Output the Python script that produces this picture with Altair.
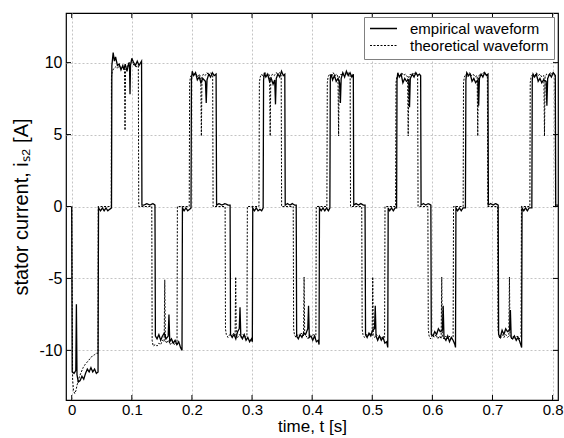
import altair as alt
import pandas as pd

# ---------------- data ----------------
series_names = ["empirical waveform", "theoretical waveform"]

emp_t = [
    0.0, 0.0008, 0.004, 0.0068, 0.0078, 0.0088, 0.011, 0.014, 0.017, 0.020, 0.023, 0.026, 0.029, 0.032, 0.035, 0.038, 0.041, 0.0438,
    0.0446, 0.048, 0.051, 0.054, 0.057, 0.060, 0.063, 0.0662,
    0.0668, 0.0690, 0.0710, 0.0730, 0.0760, 0.0790, 0.0820, 0.0850, 0.0870, 0.0890, 0.0920, 0.0950, 0.0962, 0.0970, 0.0978, 0.1000, 0.1030, 0.1060, 0.1090, 0.1120, 0.1162,
    0.1168, 0.120, 0.125, 0.130, 0.135, 0.1385,
    0.1392, 0.142, 0.145, 0.148, 0.151, 0.154, 0.157, 0.1605, 0.1618, 0.1631, 0.166, 0.169, 0.172, 0.175, 0.178, 0.181, 0.1835,
    0.1842, 0.187, 0.190, 0.193, 0.196, 0.1985,
    0.1992, 0.2005, 0.203, 0.206, 0.209, 0.212, 0.215, 0.218, 0.2225, 0.2238, 0.2251, 0.228, 0.231, 0.234, 0.237, 0.2402,
    0.2410, 0.245, 0.250, 0.255, 0.260, 0.2635,
    0.2642, 0.267, 0.270, 0.273, 0.276, 0.2787, 0.2800, 0.2813, 0.284, 0.287, 0.290, 0.293, 0.296, 0.299, 0.3005,
    0.3012, 0.304, 0.307, 0.310, 0.313, 0.316, 0.3185,
    0.3192, 0.3205, 0.323, 0.326, 0.329, 0.332, 0.335, 0.3377, 0.3390, 0.3403, 0.343, 0.346, 0.349, 0.352, 0.3545,
    0.3552, 0.359, 0.363, 0.367, 0.371, 0.3735,
    0.3742, 0.377, 0.380, 0.383, 0.386, 0.389, 0.3927, 0.3940, 0.3953, 0.398, 0.401, 0.404, 0.407, 0.410, 0.4115,
    0.4122, 0.415, 0.418, 0.421, 0.424, 0.427, 0.4295,
    0.4302, 0.4315, 0.434, 0.437, 0.440, 0.443, 0.4457, 0.4470, 0.4483, 0.451, 0.454, 0.457, 0.460, 0.463, 0.466, 0.4685,
    0.4692, 0.473, 0.477, 0.481, 0.485, 0.488,
    0.4888, 0.4915, 0.4945, 0.4975, 0.5005, 0.5037, 0.5050, 0.5063, 0.509, 0.512, 0.515, 0.518, 0.521, 0.524, 0.5258,
    0.5265, 0.529, 0.532, 0.535, 0.538, 0.5405,
    0.5412, 0.5425, 0.545, 0.548, 0.551, 0.554, 0.557, 0.5607, 0.5620, 0.5633, 0.5665, 0.5695, 0.5725, 0.5755, 0.5785, 0.5805,
    0.5812, 0.585, 0.589, 0.593, 0.5975,
    0.5982, 0.601, 0.604, 0.607, 0.610, 0.613, 0.6167, 0.6180, 0.6193, 0.6225, 0.6255, 0.6285, 0.6315, 0.6345, 0.6375, 0.6385,
    0.6392, 0.642, 0.645, 0.648, 0.651, 0.655,
    0.6558, 0.6572, 0.660, 0.663, 0.666, 0.669, 0.672, 0.6757, 0.6770, 0.6783, 0.681, 0.684, 0.687, 0.690, 0.6925,
    0.6932, 0.697, 0.701, 0.705, 0.7095,
    0.7102, 0.713, 0.716, 0.719, 0.722, 0.725, 0.7285, 0.7298, 0.7311, 0.7335, 0.7365, 0.7395, 0.7425, 0.7455, 0.7485,
    0.7492, 0.752, 0.755, 0.758, 0.761, 0.7655,
    0.7662, 0.7675, 0.770, 0.773, 0.776, 0.779, 0.782, 0.785, 0.7892, 0.7905, 0.7918, 0.795, 0.798, 0.801, 0.8045,
    0.8052, 0.808, 0.81,
]
emp_i = [
    0.0, -11.5, -11.6, -11.4, -6.8, -11.7, -12.2, -12.1, -11.8, -12.0, -11.6, -11.3, -11.5, -11.2, -11.5, -11.3, -11.6, -11.5,
    -0.1, -0.3, -0.1, -0.3, -0.1, -0.3, -0.2, -0.1,
    9.8, 10.7, 10.1, 10.4, 9.8, 9.9, 9.5, 9.8, 9.5, 9.9, 9.4, 10.0, 9.7, 7.8, 9.8, 10.3, 10.0, 9.8, 10.1, 9.8, 10.1,
    0.1, 0.1, 0.2, 0.1, 0.2, 0.1,
    -9.0, -9.2, -8.9, -9.3, -9.0, -8.8, -9.2, -9.0, -7.5, -9.4, -9.2, -9.5, -9.3, -9.6, -9.4, -9.8, -10.0,
    -0.1, -0.3, -0.1, -0.3, -0.2, -0.1,
    8.8, 9.4, 9.1, 9.3, 8.8, 9.0, 8.6, 8.9, 8.7, 7.2, 8.8, 9.2, 9.0, 9.3, 9.1, 9.2,
    0.1, 0.2, 0.1, 0.2, 0.1, 0.1,
    -8.9, -9.1, -8.9, -9.2, -8.7, -8.5, -7.0, -9.0, -9.2, -8.9, -9.3, -9.1, -9.4, -9.2, -9.4,
    -0.1, -0.3, -0.1, -0.3, -0.2, -0.3, -0.1,
    8.8, 9.3, 9.0, 9.2, 8.7, 8.9, 8.5, 8.8, 7.1, 8.9, 9.2, 9.0, 9.4, 9.1, 9.2,
    0.1, 0.2, 0.1, 0.2, 0.1, 0.1,
    -9.0, -9.2, -8.9, -9.1, -8.8, -8.9, -8.5, -6.9, -9.1, -9.0, -9.3, -9.0, -9.4, -9.3, -9.6,
    -0.1, -0.3, -0.1, -0.3, -0.1, -0.3, -0.1,
    8.9, 9.2, 8.8, 9.1, 8.7, 8.9, 8.6, 7.2, 8.9, 9.3, 9.0, 9.4, 9.1, 9.3, 9.0, 9.2,
    0.1, 0.2, 0.1, 0.2, 0.1, 0.1,
    -8.9, -9.1, -8.8, -9.0, -8.6, -8.5, -6.9, -9.0, -9.3, -9.0, -9.3, -9.1, -9.5, -9.4, -9.8,
    -0.1, -0.3, -0.1, -0.3, -0.1, -0.1,
    8.8, 9.3, 9.0, 9.2, 8.6, 8.9, 8.7, 8.8, 6.9, 8.9, 9.2, 9.0, 9.3, 9.1, 9.2, 9.1,
    0.1, 0.2, 0.1, 0.2, 0.1,
    -8.9, -9.0, -8.7, -8.9, -8.5, -8.7, -8.6, -6.9, -9.1, -9.3, -9.0, -9.4, -9.1, -9.3, -9.6, -9.8,
    -0.1, -0.3, -0.1, -0.3, -0.1, -0.1,
    8.8, 9.3, 9.1, 9.2, 8.7, 8.9, 8.6, 8.8, 7.0, 8.9, 9.2, 9.0, 9.3, 9.1, 9.2,
    0.1, 0.2, 0.1, 0.2, 0.1,
    -8.9, -9.1, -8.6, -8.9, -8.5, -8.7, -8.6, -7.2, -9.1, -9.2, -9.0, -9.3, -9.1, -9.4, -9.8,
    -0.1, -0.3, -0.1, -0.3, -0.1, -0.1,
    8.8, 9.2, 9.0, 9.2, 8.7, 8.9, 8.6, 8.8, 8.7, 7.0, 8.9, 9.2, 9.0, 9.3, 9.1,
    0.1, 0.1, 0.1,
]

theo_t = [
    0.0, 0.0015, 0.003, 0.005, 0.007, 0.009, 0.011, 0.013, 0.016, 0.019, 0.022, 0.026, 0.030, 0.034, 0.038, 0.041, 0.0437,
    0.0442, 0.0658,
    0.0661, 0.0675, 0.070, 0.073, 0.076, 0.079, 0.082, 0.085, 0.0878, 0.0887, 0.0896, 0.092, 0.095, 0.098, 0.101, 0.104, 0.107, 0.1108,
    0.1115, 0.1332,
    0.1338, 0.1355, 0.139, 0.142, 0.145, 0.148, 0.151, 0.1538, 0.1548, 0.1558, 0.158, 0.161, 0.164, 0.167, 0.170, 0.173, 0.1752,
    0.1758, 0.1955,
    0.1962, 0.1975, 0.200, 0.203, 0.206, 0.209, 0.212, 0.2147, 0.2157, 0.2167, 0.219, 0.222, 0.225, 0.228, 0.231, 0.2345,
    0.2352, 0.2552,
    0.2558, 0.2572, 0.260, 0.263, 0.266, 0.269, 0.2718, 0.2728, 0.2738, 0.276, 0.279, 0.282, 0.285, 0.288, 0.2915,
    0.2922, 0.3115,
    0.3122, 0.3135, 0.316, 0.319, 0.322, 0.325, 0.328, 0.3292, 0.3302, 0.3312, 0.334, 0.337, 0.340, 0.343, 0.346, 0.3485,
    0.3492, 0.3685,
    0.3692, 0.3705, 0.373, 0.376, 0.379, 0.382, 0.3856, 0.3866, 0.3876, 0.390, 0.393, 0.396, 0.399, 0.402, 0.405, 0.4062,
    0.4068, 0.4245,
    0.4252, 0.4265, 0.429, 0.432, 0.435, 0.438, 0.441, 0.443, 0.444, 0.445, 0.448, 0.451, 0.454, 0.457, 0.460, 0.4632,
    0.4638, 0.4825,
    0.4832, 0.4845, 0.487, 0.490, 0.493, 0.496, 0.4998, 0.5008, 0.5018, 0.504, 0.507, 0.510, 0.513, 0.516, 0.519, 0.5205,
    0.5212, 0.5388,
    0.5395, 0.5408, 0.543, 0.546, 0.549, 0.552, 0.555, 0.5588, 0.5598, 0.5608, 0.563, 0.566, 0.569, 0.572, 0.5755,
    0.5762, 0.5925,
    0.5932, 0.5945, 0.597, 0.600, 0.603, 0.606, 0.609, 0.612, 0.6146, 0.6156, 0.6166, 0.619, 0.622, 0.625, 0.628, 0.631, 0.6345,
    0.6352, 0.6512,
    0.6518, 0.6532, 0.656, 0.659, 0.662, 0.665, 0.668, 0.671, 0.6745, 0.6755, 0.6765, 0.679, 0.682, 0.685, 0.688, 0.6915,
    0.6922, 0.7085,
    0.7092, 0.7105, 0.713, 0.716, 0.719, 0.722, 0.725, 0.7272, 0.7282, 0.7292, 0.732, 0.735, 0.738, 0.741, 0.744, 0.7475,
    0.7482, 0.7622,
    0.7628, 0.7642, 0.767, 0.770, 0.773, 0.776, 0.779, 0.782, 0.7855, 0.7865, 0.7875, 0.790, 0.793, 0.796, 0.799, 0.802, 0.8042,
    0.8048, 0.81,
]
theo_i = [
    0.0, -12.0, -12.8, -13.0, -12.8, -12.4, -12.1, -11.8, -11.5, -11.2, -11.0, -10.8, -10.6, -10.4, -10.3, -10.2, -10.2,
    0.0, 0.0,
    9.0, 9.4, 9.6, 9.7, 9.6, 9.8, 9.6, 9.7, 9.5, 5.3, 9.5, 9.7, 9.9, 10.1, 10.0, 9.8, 9.7, 9.8,
    0.0, 0.0,
    -9.3, -9.7, -9.6, -9.7, -9.5, -9.6, -9.3, -9.4, -5.1, -9.3, -9.5, -9.3, -9.6, -9.4, -9.6, -9.5, -9.6,
    0.0, 0.0,
    8.6, 9.0, 9.2, 9.1, 9.3, 9.0, 9.2, 9.0, 4.9, 9.0, 9.2, 9.1, 9.3, 9.1, 9.3, 9.1,
    0.0, 0.0,
    -8.5, -8.9, -9.1, -8.9, -9.0, -8.8, -9.0, -4.9, -8.9, -9.1, -8.9, -9.1, -8.9, -9.1, -9.0,
    0.0, 0.0,
    8.6, 9.0, 9.2, 9.0, 9.3, 9.1, 9.2, 9.0, 4.9, 9.0, 9.2, 9.1, 9.3, 9.2, 9.3, 9.1,
    0.0, 0.0,
    -8.5, -8.9, -9.1, -8.9, -9.0, -8.8, -9.0, -4.9, -8.9, -9.0, -9.2, -8.9, -9.1, -8.9, -9.1, -9.0,
    0.0, 0.0,
    8.6, 9.0, 9.2, 9.0, 9.3, 9.1, 9.2, 9.0, 4.9, 9.0, 9.2, 9.1, 9.3, 9.2, 9.3, 9.1,
    0.0, 0.0,
    -8.5, -8.9, -9.1, -8.9, -9.0, -8.8, -9.0, -4.9, -8.9, -9.1, -8.9, -9.1, -9.0, -9.2, -9.0, -9.1,
    0.0, 0.0,
    8.6, 9.0, 9.2, 9.0, 9.3, 9.1, 9.2, 9.0, 4.9, 9.0, 9.2, 9.1, 9.3, 9.2, 9.1,
    0.0, 0.0,
    -8.5, -9.0, -9.2, -8.9, -9.1, -8.9, -9.2, -9.0, -9.2, -4.9, -9.0, -9.2, -9.0, -9.2, -9.0, -9.2, -9.1,
    0.0, 0.0,
    8.6, 9.0, 9.2, 9.0, 9.3, 9.1, 9.2, 9.0, 9.1, 4.9, 9.0, 9.2, 9.1, 9.3, 9.2, 9.1,
    0.0, 0.0,
    -8.5, -9.0, -9.2, -8.9, -9.1, -8.9, -9.1, -9.0, -4.9, -9.0, -9.2, -9.0, -9.2, -9.0, -9.2, -9.1,
    0.0, 0.0,
    8.6, 9.0, 9.2, 9.0, 9.3, 9.1, 9.2, 9.0, 9.1, 4.9, 9.0, 9.2, 9.1, 9.3, 9.2, 9.3, 9.1,
    0.0, 0.0,
]

x_ticks = [0, 0.1, 0.2, 0.3, 0.4, 0.5, 0.6, 0.7, 0.8]
y_ticks = [-10, -5, 0, 5, 10]

# ---------------- layout / style ----------------
W, H = 492, 387
X_DOMAIN = [-0.0095, 0.809]
Y_DOMAIN = [-13.45, 13.45]
FONT = "Liberation Sans, Arial, Helvetica, sans-serif"

rows = []
for k, (tt, ii) in enumerate(zip(emp_t, emp_i)):
    rows.append({"series": series_names[0], "t": tt, "i": ii, "idx": k})
for k, (tt, ii) in enumerate(zip(theo_t, theo_i)):
    rows.append({"series": series_names[1], "t": tt, "i": ii, "idx": k})
df = pd.DataFrame(rows)

xs = alt.Scale(domain=X_DOMAIN, nice=False, zero=False)
ys = alt.Scale(domain=Y_DOMAIN, nice=False, zero=False)

x_axis = alt.Axis(values=x_ticks, title="time, t [s]", labelExpr="'' + datum.value",
                  grid=True, ticks=False, domain=False, labelPadding=2, titlePadding=1,
                  labelFontSize=15, titleFontSize=17)
y_axis = alt.Axis(values=y_ticks, title="stator current, iₛ₂ [A]", labelExpr="'' + datum.value",
                  grid=True, ticks=False, domain=False, labelPadding=4, titlePadding=7,
                  labelFontSize=16, titleFontSize=20)

x_enc = alt.X("t:Q", scale=xs, axis=x_axis)
y_enc = alt.Y("i:Q", scale=ys, axis=y_axis)

lines = alt.Chart(df).mark_line(color="black", clip=True).encode(
    x=x_enc,
    y=y_enc,
    strokeDash=alt.StrokeDash(
        "series:N",
        scale=alt.Scale(domain=series_names, range=[[1, 0], [2, 1.5]]),
        legend=alt.Legend(title=None, orient="top-right", offset=4, fillColor="white",
                          strokeColor="#808080", padding=5, symbolType="stroke",
                          symbolSize=729, symbolStrokeWidth=1.2, symbolStrokeColor="black",
                          clipHeight=13,
                          labelFont=FONT, labelFontSize=15, labelColor="black",
                          labelOffset=12, rowPadding=1, cornerRadius=0),
    ),
    strokeWidth=alt.StrokeWidth("series:N", scale=alt.Scale(domain=series_names, range=[1.3, 1.0]), legend=None),
    order=alt.Order("idx:Q"),
)

xt = pd.DataFrame({"t": x_ticks})
yt = pd.DataFrame({"i": y_ticks})
tick_b = alt.Chart(xt).mark_rule(color="black").encode(x=x_enc, y=alt.value(H), y2=alt.value(H - 5))
tick_t = alt.Chart(xt).mark_rule(color="black").encode(x=x_enc, y=alt.value(0), y2=alt.value(5))
tick_l = alt.Chart(yt).mark_rule(color="black").encode(y=y_enc, x=alt.value(0), x2=alt.value(5))
tick_r = alt.Chart(yt).mark_rule(color="black").encode(y=y_enc, x=alt.value(W), x2=alt.value(W - 5))

chart = alt.layer(lines, tick_b, tick_t, tick_l, tick_r).properties(
    width=W, height=H,
    autosize=alt.AutoSizeParams(type="none"),
    padding={"left": 66, "top": 13, "right": 6, "bottom": 38},
    background="white",
).configure_view(
    stroke="black", strokeWidth=1.2
).configure_axis(
    labelFont=FONT, titleFont=FONT,
    labelColor="black", titleColor="black", titleFontWeight="normal",
    gridColor="#c4c4c4", gridDash=[2, 2], gridWidth=1,
)

chart.save("out.html", embed_options={"renderer": "svg", "actions": False})
